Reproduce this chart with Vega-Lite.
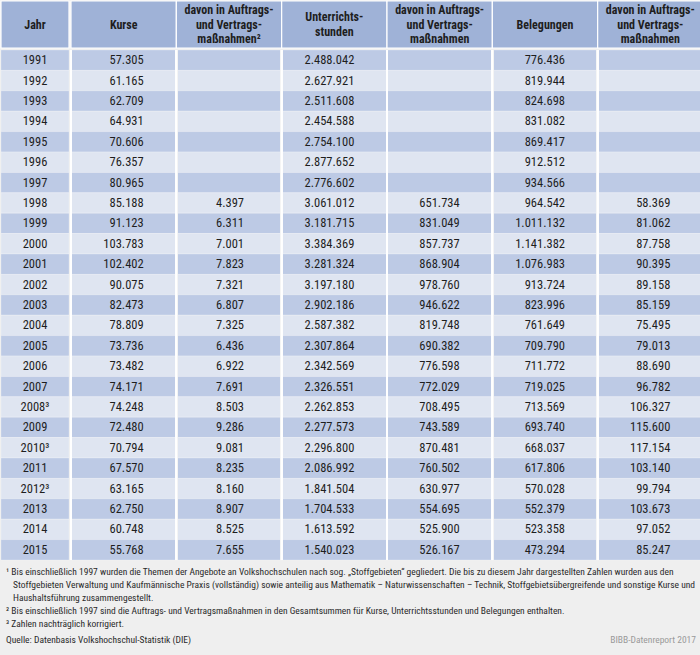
{
  "$schema": "https://vega.github.io/schema/vega-lite/v6.json",
  "padding": {"left": 0, "top": 0, "right": 0, "bottom": 11},
  "background": "#efefef",
  "spacing": 0,
  "config": {
    "view": {"stroke": null},
    "concat": {"spacing": 0},
    "locale": {"number": {"decimal": ",", "thousands": ".", "grouping": [3], "currency": ["", " €"]}},
    "text": {"font": "'Roboto Condensed', 'Liberation Sans Narrow', 'DejaVu Sans Condensed', sans-serif", "color": "#1e1e1e"}
  },
  "datasets": {
    "kopf": [
      {"spalte": "Jahr", "titel": "Jahr"},
      {"spalte": "Kurse", "titel": "Kurse"},
      {"spalte": "Kurse_AV", "titel": "davon in Auftrags-\nund Vertrags-\nmaßnahmen²"},
      {"spalte": "Std", "titel": "Unterrichts-\nstunden"},
      {"spalte": "Std_AV", "titel": "davon in Auftrags-\nund Vertrags-\nmaßnahmen"},
      {"spalte": "Bel", "titel": "Belegungen"},
      {"spalte": "Bel_AV", "titel": "davon in Auftrags-\nund Vertrags-\nmaßnahmen"}
    ],
    "tabelle": [
      {"Jahr": "1991", "Kurse": 57305, "Kurse_AV": null, "Std": 2488042, "Std_AV": null, "Bel": 776436, "Bel_AV": null},
      {"Jahr": "1992", "Kurse": 61165, "Kurse_AV": null, "Std": 2627921, "Std_AV": null, "Bel": 819944, "Bel_AV": null},
      {"Jahr": "1993", "Kurse": 62709, "Kurse_AV": null, "Std": 2511608, "Std_AV": null, "Bel": 824698, "Bel_AV": null},
      {"Jahr": "1994", "Kurse": 64931, "Kurse_AV": null, "Std": 2454588, "Std_AV": null, "Bel": 831082, "Bel_AV": null},
      {"Jahr": "1995", "Kurse": 70606, "Kurse_AV": null, "Std": 2754100, "Std_AV": null, "Bel": 869417, "Bel_AV": null},
      {"Jahr": "1996", "Kurse": 76357, "Kurse_AV": null, "Std": 2877652, "Std_AV": null, "Bel": 912512, "Bel_AV": null},
      {"Jahr": "1997", "Kurse": 80965, "Kurse_AV": null, "Std": 2776602, "Std_AV": null, "Bel": 934566, "Bel_AV": null},
      {"Jahr": "1998", "Kurse": 85188, "Kurse_AV": 4397, "Std": 3061012, "Std_AV": 651734, "Bel": 964542, "Bel_AV": 58369},
      {"Jahr": "1999", "Kurse": 91123, "Kurse_AV": 6311, "Std": 3181715, "Std_AV": 831049, "Bel": 1011132, "Bel_AV": 81062},
      {"Jahr": "2000", "Kurse": 103783, "Kurse_AV": 7001, "Std": 3384369, "Std_AV": 857737, "Bel": 1141382, "Bel_AV": 87758},
      {"Jahr": "2001", "Kurse": 102402, "Kurse_AV": 7823, "Std": 3281324, "Std_AV": 868904, "Bel": 1076983, "Bel_AV": 90395},
      {"Jahr": "2002", "Kurse": 90075, "Kurse_AV": 7321, "Std": 3197180, "Std_AV": 978760, "Bel": 913724, "Bel_AV": 89158},
      {"Jahr": "2003", "Kurse": 82473, "Kurse_AV": 6807, "Std": 2902186, "Std_AV": 946622, "Bel": 823996, "Bel_AV": 85159},
      {"Jahr": "2004", "Kurse": 78809, "Kurse_AV": 7325, "Std": 2587382, "Std_AV": 819748, "Bel": 761649, "Bel_AV": 75495},
      {"Jahr": "2005", "Kurse": 73736, "Kurse_AV": 6436, "Std": 2307864, "Std_AV": 690382, "Bel": 709790, "Bel_AV": 79013},
      {"Jahr": "2006", "Kurse": 73482, "Kurse_AV": 6922, "Std": 2342569, "Std_AV": 776598, "Bel": 711772, "Bel_AV": 88690},
      {"Jahr": "2007", "Kurse": 74171, "Kurse_AV": 7691, "Std": 2326551, "Std_AV": 772029, "Bel": 719025, "Bel_AV": 96782},
      {"Jahr": "2008³", "Kurse": 74248, "Kurse_AV": 8503, "Std": 2262853, "Std_AV": 708495, "Bel": 713569, "Bel_AV": 106327},
      {"Jahr": "2009", "Kurse": 72480, "Kurse_AV": 9286, "Std": 2277573, "Std_AV": 743589, "Bel": 693740, "Bel_AV": 115600},
      {"Jahr": "2010³", "Kurse": 70794, "Kurse_AV": 9081, "Std": 2296800, "Std_AV": 870481, "Bel": 668037, "Bel_AV": 117154},
      {"Jahr": "2011", "Kurse": 67570, "Kurse_AV": 8235, "Std": 2086992, "Std_AV": 760502, "Bel": 617806, "Bel_AV": 103140},
      {"Jahr": "2012³", "Kurse": 63165, "Kurse_AV": 8160, "Std": 1841504, "Std_AV": 630977, "Bel": 570028, "Bel_AV": 99794},
      {"Jahr": "2013", "Kurse": 62750, "Kurse_AV": 8907, "Std": 1704533, "Std_AV": 554695, "Bel": 552379, "Bel_AV": 103673},
      {"Jahr": "2014", "Kurse": 60748, "Kurse_AV": 8525, "Std": 1613592, "Std_AV": 525900, "Bel": 523358, "Bel_AV": 97052},
      {"Jahr": "2015", "Kurse": 55768, "Kurse_AV": 7655, "Std": 1540023, "Std_AV": 526167, "Bel": 473294, "Bel_AV": 85247}
    ],
    "fussnoten": [
      {"zeile": 1, "art": "Fußnote", "text": "¹ Bis einschließlich 1997 wurden die Themen der Angebote an Volkshochschulen nach sog. „Stoffgebieten“ gegliedert. Die bis zu diesem Jahr dargestellten Zahlen wurden aus den"},
      {"zeile": 2, "art": "Fortsetzung", "text": "Stoffgebieten Verwaltung und Kaufmännische Praxis (vollständig) sowie anteilig aus Mathematik – Naturwissenschaften – Technik, Stoffgebietsübergreifende und sonstige Kurse und"},
      {"zeile": 3, "art": "Fortsetzung", "text": "Haushaltsführung zusammengestellt."},
      {"zeile": 4, "art": "Fußnote", "text": "² Bis einschließlich 1997 sind die Auftrags- und Vertragsmaßnahmen in den Gesamtsummen für Kurse, Unterrichtsstunden und Belegungen enthalten."},
      {"zeile": 5, "art": "Fußnote", "text": "³ Zahlen nachträglich korrigiert."},
      {"zeile": 6, "art": "Quelle", "text": "Quelle: Datenbasis Volkshochschul-Statistik (DIE)"},
      {"zeile": 6, "art": "Herausgeber", "text": "BIBB-Datenreport 2017"}
    ]
  },
  "vconcat": [
    {
      "spacing": 0,
      "hconcat": [
        {
          "width": 68, "height": 47,
          "data": {"name": "kopf"},
          "transform": [{"filter": "datum.spalte === 'Jahr'"}],
          "layer": [
            {"mark": {"type": "rect", "fill": "#9fb2d7", "stroke": "#ffffff", "strokeWidth": 1.2}, "encoding": {}},
            {"mark": {"type": "text", "fontWeight": "bold", "fontSize": 12, "baseline": "middle"},
             "encoding": {"text": {"field": "titel"}}}
          ]
        },
        {
          "width": 632, "height": 47,
          "data": {"name": "kopf"},
          "transform": [{"filter": "datum.spalte !== 'Jahr'"}],
          "encoding": {
            "x": {"field": "spalte", "type": "nominal", "axis": null,
                  "scale": {"domain": ["Kurse", "Kurse_AV", "Std", "Std_AV", "Bel", "Bel_AV"], "paddingInner": 0, "paddingOuter": 0}},
            "text": {"field": "titel"}
          },
          "layer": [
            {"mark": {"type": "rect", "fill": "#9fb2d7", "stroke": "#ffffff", "strokeWidth": 1.2}},
            {"transform": [{"filter": "length(split(datum.titel, '\\n')) === 1"}],
             "mark": {"type": "text", "fontWeight": "bold", "fontSize": 12, "baseline": "middle"}},
            {"transform": [{"filter": "length(split(datum.titel, '\\n')) === 2"}],
             "mark": {"type": "text", "fontWeight": "bold", "fontSize": 12, "baseline": "middle", "lineBreak": "\n", "lineHeight": 14.5, "dy": -7.25}},
            {"transform": [{"filter": "length(split(datum.titel, '\\n')) === 3"}],
             "mark": {"type": "text", "fontWeight": "bold", "fontSize": 12, "baseline": "middle", "lineBreak": "\n", "lineHeight": 14.5, "dy": -14.5}}
          ]
        }
      ]
    },
    {
      "spacing": 0,
      "hconcat": [
        {
          "width": 68, "height": 510,
          "data": {"name": "tabelle"},
          "encoding": {
            "y": {"field": "Jahr", "type": "nominal", "sort": null, "axis": null, "scale": {"paddingInner": 0, "paddingOuter": 0}}
          },
          "layer": [
            {"mark": {"type": "rect", "stroke": "#ffffff", "strokeWidth": 0.8, "strokeOpacity": 0.3},
             "encoding": {"fill": {"field": "Jahr", "type": "nominal", "sort": null, "legend": null, "scale": {"range": ["#bdcae5", "#dfe5f1"]}}}},
            {"mark": {"type": "text", "fontSize": 12.5, "baseline": "middle"},
             "encoding": {"text": {"field": "Jahr"}}}
          ]
        },
        {
          "width": 632, "height": 510,
          "data": {"name": "tabelle"},
          "transform": [{"fold": ["Kurse", "Kurse_AV", "Std", "Std_AV", "Bel", "Bel_AV"], "as": ["spalte", "wert"]}],
          "encoding": {
            "x": {"field": "spalte", "type": "nominal", "axis": null,
                  "scale": {"domain": ["Kurse", "Kurse_AV", "Std", "Std_AV", "Bel", "Bel_AV"], "paddingInner": 0, "paddingOuter": 0}},
            "y": {"field": "Jahr", "type": "nominal", "sort": null, "axis": null, "scale": {"paddingInner": 0, "paddingOuter": 0}}
          },
          "layer": [
            {"mark": {"type": "rect", "stroke": "#ffffff", "strokeWidth": 0.8, "strokeOpacity": 0.3},
             "encoding": {"fill": {"field": "Jahr", "type": "nominal", "sort": null, "legend": null, "scale": {"range": ["#bdcae5", "#dfe5f1"]}}}},
            {"mark": {"type": "rule", "stroke": "#ffffff", "strokeWidth": 1.5},
             "encoding": {"x": {"field": "spalte", "type": "nominal", "bandPosition": 0}, "y": null}},
            {"transform": [{"filter": {"field": "wert", "valid": true}}, {"filter": "datum.spalte !== 'Kurse_AV'"}],
             "mark": {"type": "text", "fontSize": 12.5, "baseline": "middle", "align": "right", "dx": 20},
             "encoding": {"text": {"field": "wert", "type": "quantitative", "format": ",d"}}},
            {"transform": [{"filter": {"field": "wert", "valid": true}}, {"filter": "datum.spalte === 'Kurse_AV'"}],
             "mark": {"type": "text", "fontSize": 12.5, "baseline": "middle", "align": "right", "dx": 15},
             "encoding": {"text": {"field": "wert", "type": "quantitative", "format": ",d"}}}
          ]
        }
      ]
    },
    {
      "width": 700, "height": 87,
      "data": {"name": "fussnoten"},
      "encoding": {
        "y": {"field": "zeile", "type": "ordinal", "axis": null, "scale": {"type": "point", "padding": 0.846}},
        "text": {"field": "text"}
      },
      "layer": [
        {"transform": [{"filter": "datum.art === 'Fußnote'"}],
         "mark": {"type": "text", "fontSize": 9.5, "baseline": "middle", "align": "left", "dx": 5, "color": "#2a2a2a"},
         "encoding": {"x": {"datum": "links", "type": "nominal", "axis": null, "scale": {"type": "point", "domain": ["links", "rechts"], "padding": 0}}}},
        {"transform": [{"filter": "datum.art === 'Fortsetzung'"}],
         "mark": {"type": "text", "fontSize": 9.5, "baseline": "middle", "align": "left", "dx": 12, "color": "#2a2a2a"},
         "encoding": {"x": {"datum": "links", "type": "nominal", "axis": null}}},
        {"transform": [{"filter": "datum.art === 'Quelle'"}],
         "mark": {"type": "text", "fontSize": 9.5, "baseline": "middle", "align": "left", "dx": 5, "dy": 3, "color": "#2a2a2a"},
         "encoding": {"x": {"datum": "links", "type": "nominal", "axis": null}}},
        {"transform": [{"filter": "datum.art === 'Herausgeber'"}],
         "mark": {"type": "text", "fontSize": 9.5, "baseline": "middle", "align": "right", "dx": -5, "dy": 3, "color": "#9a9a9a"},
         "encoding": {"x": {"datum": "rechts", "type": "nominal", "axis": null}}}
      ]
    }
  ]
}
